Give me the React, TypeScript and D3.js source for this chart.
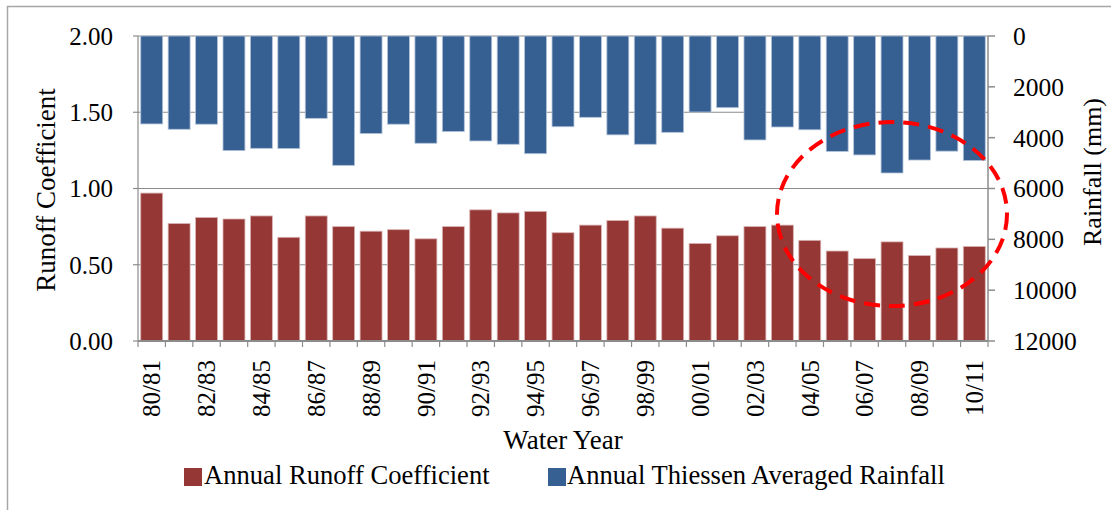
import React from "react";
import * as d3 from "d3";

const categories: string[] = [
  "80/81", "81/82", "82/83", "83/84", "84/85", "85/86", "86/87", "87/88", "88/89", "89/90",
  "90/91", "91/92", "92/93", "93/94", "94/95", "95/96", "96/97", "97/98", "98/99", "99/00",
  "00/01", "01/02", "02/03", "03/04", "04/05", "05/06", "06/07", "07/08", "08/09", "09/10", "10/11",
];
const runoffCoefficient: number[] = [
  0.97, 0.77, 0.81, 0.8, 0.82, 0.68, 0.82, 0.75, 0.72, 0.73,
  0.67, 0.75, 0.86, 0.84, 0.85, 0.71, 0.76, 0.79, 0.82, 0.74,
  0.64, 0.69, 0.75, 0.76, 0.66, 0.59, 0.54, 0.65, 0.56, 0.61, 0.62,
];
const rainfall: number[] = [
  3460, 3670, 3470, 4510, 4420, 4430, 3240, 5090, 3840, 3470,
  4220, 3760, 4130, 4260, 4630, 3570, 3200, 3890, 4260, 3790,
  2990, 2820, 4090, 3580, 3690, 4540, 4680, 5390, 4880, 4530, 4900,
];
const leftTicks: number[] = [0, 0.5, 1, 1.5, 2];
const rightTicks: number[] = [0, 2000, 4000, 6000, 8000, 10000, 12000];
const seriesNames: string[] = ["Annual Runoff Coefficient", "Annual Thiessen Averaged Rainfall"];

const W = 1111;
const H = 510;
const plot = { left: 138, right: 988, top: 36, bottom: 341 };
const RED = "#953735";
const BLUE = "#376092";
const GRID = "#8c8c8c";
const FONT = "Liberation Serif, DejaVu Serif, serif";

export default function App() {
  const x = d3
    .scaleBand<string>()
    .domain(categories)
    .range([plot.left, plot.right])
    .paddingInner(0.2)
    .paddingOuter(0.1);
  const yL = d3.scaleLinear().domain([0, 2]).range([plot.bottom, plot.top]);
  const yR = d3.scaleLinear().domain([0, 12000]).range([plot.top, plot.bottom]);
  const step = x.step();
  const boundaries = d3.range(categories.length + 1).map((i) => plot.left + i * step);
  const ts = { fontFamily: FONT };

  return (
    <svg width={W} height={H} style={{ position: "absolute", left: 0, top: 0, fontFamily: FONT }}>
      <rect x={0} y={0} width={W} height={H} fill="#fff" />
      {/* outer frame */}
      <path d={`M7.5,${H + 2} V6.5 H${W + 2}`} fill="none" stroke="#a6a6a6" strokeWidth={1.5} />

      {/* gridlines */}
      {leftTicks.map((t) => (
        <line key={"g" + t} x1={plot.left} x2={plot.right} y1={yL(t)} y2={yL(t)} stroke={GRID} strokeWidth={1} />
      ))}

      {/* runoff bars */}
      {categories.map((c, i) => (
        <rect
          key={"r" + c}
          x={x(c)}
          y={yL(runoffCoefficient[i])}
          width={x.bandwidth()}
          height={yL(0) - yL(runoffCoefficient[i])}
          fill={RED}
          stroke="#d9b3b2"
          strokeWidth={0.8}
        />
      ))}
      {/* rainfall bars */}
      {categories.map((c, i) => (
        <rect
          key={"b" + c}
          x={x(c)}
          y={yR(0)}
          width={x.bandwidth()}
          height={yR(rainfall[i]) - yR(0)}
          fill={BLUE}
          stroke="#b3c3d9"
          strokeWidth={0.8}
        />
      ))}

      {/* axes lines */}
      <line x1={plot.left} x2={plot.left} y1={plot.top} y2={plot.bottom} stroke={GRID} strokeWidth={1.2} />
      <line x1={plot.right} x2={plot.right} y1={plot.top} y2={plot.bottom} stroke={GRID} strokeWidth={1.5} />
      <line x1={plot.left} x2={plot.right} y1={plot.bottom} y2={plot.bottom} stroke={GRID} strokeWidth={2} />
      {boundaries.map((bx, i) => (
        <line key={"xt" + i} x1={bx} x2={bx} y1={plot.bottom} y2={plot.bottom + 6} stroke={GRID} strokeWidth={1.2} />
      ))}
      {leftTicks.map((t) => (
        <line key={"lt" + t} x1={plot.left - 5} x2={plot.left} y1={yL(t)} y2={yL(t)} stroke={GRID} strokeWidth={1.2} />
      ))}
      {rightTicks.map((t) => (
        <line key={"rt" + t} x1={plot.right} x2={plot.right + 7} y1={yR(t)} y2={yR(t)} stroke={GRID} strokeWidth={1.5} />
      ))}

      {/* left tick labels */}
      {leftTicks.map((t) => (
        <text key={"ll" + t} style={ts} x={113} y={yL(t)} dy="0.35em" textAnchor="end" fontSize={25} fill="#000">
          {d3.format(".2f")(t)}
        </text>
      ))}
      {/* right tick labels */}
      {rightTicks.map((t) => (
        <text key={"rl" + t} style={ts} x={1013} y={yR(t)} dy="0.35em" textAnchor="start" fontSize={25.5} fill="#000">
          {t}
        </text>
      ))}
      {/* x tick labels */}
      {categories.map((c, i) =>
        i % 2 === 0 ? (
          <text
            key={"xl" + c}
            style={ts}
            transform={`translate(${(x(c) as number) + x.bandwidth() / 2},360) rotate(-90)`}
            dy="0.35em"
            textAnchor="end"
            fontSize={25}
            fill="#000"
          >
            {c}
          </text>
        ) : null
      )}

      {/* axis titles */}
      <text style={ts} transform="translate(46,190) rotate(-90)" dy="0.35em" textAnchor="middle" fontSize={27} fill="#000">
        Runoff Coefficient
      </text>
      <text style={ts} transform="translate(1092,172) rotate(-90)" dy="0.35em" textAnchor="middle" fontSize={26} fill="#000">
        Rainfall (mm)
      </text>
      <text style={ts} x={(plot.left + plot.right) / 2} y={449} textAnchor="middle" fontSize={27} fill="#000">
        Water Year
      </text>

      {/* legend */}
      <rect x={184} y={468} width={18} height={18} fill={RED} />
      <text style={ts} x={204} y={484} fontSize={26.6} fill="#000">{seriesNames[0]}</text>
      <rect x={548} y={468} width={18} height={18} fill={BLUE} />
      <text style={ts} x={567} y={484} fontSize={26.6} fill="#000">{seriesNames[1]}</text>

      {/* red dashed ellipse annotation */}
      <ellipse cx={892} cy={214} rx={115} ry={92} fill="none" stroke="#ff0000" strokeWidth={4} strokeDasharray="16 9" />
    </svg>
  );
}
